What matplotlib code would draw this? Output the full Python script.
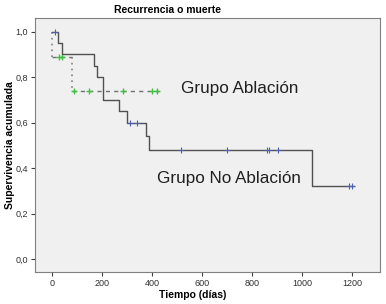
import numpy as np
import matplotlib.pyplot as plt

plt.rcParams['font.family'] = ['Liberation Sans', 'DejaVu Sans']

# Grupo No Ablación (linea continua)
t_no = [0, 24, 39, 168, 177, 204, 267, 298, 375, 387, 1039, 1207]
s_no = [1.0, 0.95, 0.90, 0.85, 0.80, 0.70, 0.65, 0.60, 0.54, 0.48, 0.32, 0.32]
cens_no_t = [12, 311, 338, 516, 700, 858, 868, 904, 1188, 1199]
cens_no_s = [1.0, 0.60, 0.60, 0.48, 0.48, 0.48, 0.48, 0.48, 0.32, 0.32]

# Grupo Ablación (linea discontinua)
t_ab = [0, 78, 428]
s_ab = [0.89, 0.74, 0.74]
cens_ab_t = [28, 38, 87, 148, 284, 398, 418]
cens_ab_s = [0.89, 0.89, 0.74, 0.74, 0.74, 0.74, 0.74]

xticks = [0, 200, 400, 600, 800, 1000, 1200]
yticks = [0.0, 0.2, 0.4, 0.6, 0.8, 1.0]

fig = plt.figure(figsize=(3.86, 3.04), dpi=100)
ax = fig.add_axes([0.0907, 0.1063, 0.8925, 0.8347])
ax.set_facecolor('#f0f0f0')

# curva ablacion: horizontales discontinuas, verticales punteadas
ax.plot([0, 0], [1.0, s_ab[0]], color='#808080', lw=1.2, linestyle=(0, (1, 2.5)))
for i in range(len(t_ab) - 1):
    ax.plot([t_ab[i], t_ab[i + 1]], [s_ab[i], s_ab[i]], color='#707070',
            lw=1, linestyle=(0, (3, 3)))
    if s_ab[i + 1] != s_ab[i]:
        ax.plot([t_ab[i + 1], t_ab[i + 1]], [s_ab[i], s_ab[i + 1]],
                color='#808080', lw=1.2, linestyle=(0, (1, 2.5)))
ax.plot(cens_ab_t, cens_ab_s, '+', color='#40c040', ms=5, mew=1)

ax.step(t_no, s_no, where='post', color='#505050', lw=1)
ax.plot(cens_no_t, cens_no_s, '+', color='#5060b0', ms=5, mew=0.8)

ax.set_xlim(-69, 1309)
ax.set_ylim(-0.055, 1.06)
ax.set_xticks(xticks)
ax.set_xticklabels([str(v) for v in xticks])
ax.set_yticks(yticks)
ax.set_yticklabels([('%.1f' % v).replace('.', ',') for v in yticks])
ax.tick_params(labelsize=6.5, length=3, pad=2, color='#404040', labelcolor='#303030')
for sp in ax.spines.values():
    sp.set_color('#808080')

fig.text(181 / 386, 1 - 88 / 304, 'Grupo Ablación', fontsize=12.3, color='#202020', va='center')
fig.text(157 / 386, 1 - 178 / 304, 'Grupo No Ablación', fontsize=12.3, color='#202020', va='center')
fig.text(168 / 386, 1 - 10 / 304, 'Recurrencia o muerte', fontsize=7.5,
         fontweight='bold', ha='center', va='center')
fig.text(193 / 386, 1 - 295 / 304, 'Tiempo (días)', fontsize=7.5,
         fontweight='bold', ha='center', va='center')
fig.text(10 / 386, 1 - 145 / 304, 'Supervivencia acumulada', fontsize=7.5,
         fontweight='bold', ha='center', va='center', rotation=90)

fig.savefig('out.png', dpi=100)
